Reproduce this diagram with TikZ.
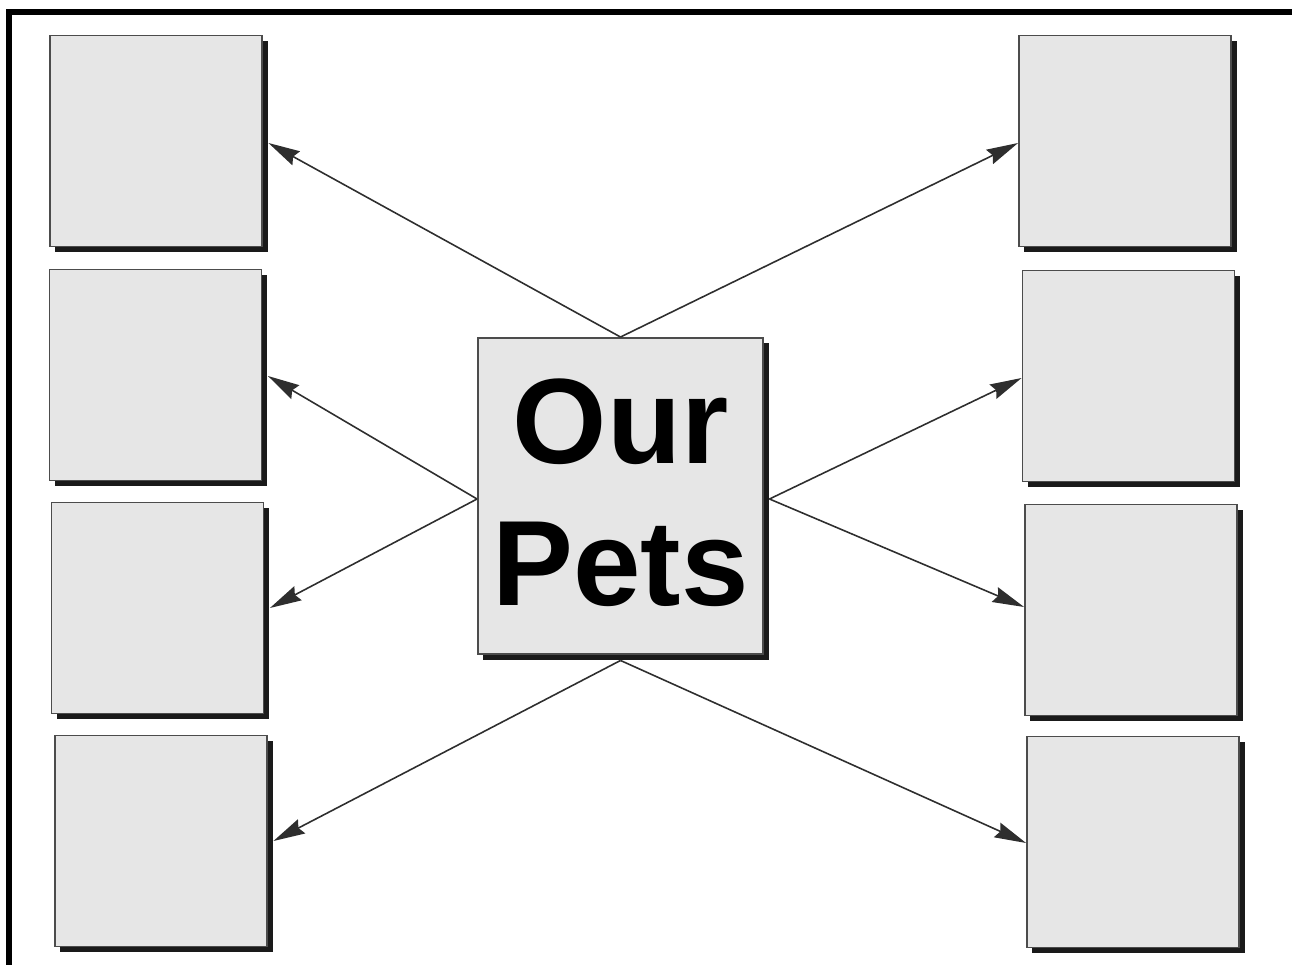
\documentclass[tikz,border=0pt]{standalone}
\usepackage{fontspec}
\newfontfamily\petsfont{Liberation Sans}
\usetikzlibrary{arrows.meta,shadows}
\definecolor{boxfill}{HTML}{E6E6E6}
\definecolor{shadowc}{HTML}{1A1A1A}
\definecolor{linec}{HTML}{2E2E2E}
\tikzset{
  petbox/.style={draw=black!70, line width=0.5pt, fill=boxfill, minimum width=2.12cm, minimum height=2.11cm, inner sep=0pt,
    drop shadow={shadow xshift=0.055cm, shadow yshift=-0.055cm, fill=shadowc, opacity=1}},
  centerbox/.style={petbox, minimum width=2.85cm, minimum height=3.16cm, align=center, text depth=0.08cm,
    font=\petsfont\bfseries\fontsize{34.5pt}{40.4pt}\selectfont},
  link/.style={draw=linec, line width=0.45pt, -{Stealth[length=9pt,width=4.5pt,inset=1pt]}},
  frame/.style={line width=0.06cm, draw=black}
}
\begin{document}
\begin{tikzpicture}[x=0.01cm,y=-0.01cm]
\useasboundingbox (0,0) rectangle (1292,965);
\draw[frame] (9,980) -- (9,12) -- (1310,12);
\node[petbox] (L1) at (156,141) {};
\node[petbox] (L2) at (155.5,375) {};
\node[petbox] (L3) at (157.5,608) {};
\node[petbox] (L4) at (161,841) {};
\node[petbox] (R1) at (1125,141) {};
\node[petbox] (R2) at (1128.5,376) {};
\node[petbox] (R3) at (1131,610) {};
\node[petbox] (R4) at (1133,842) {};
\node[centerbox] (C) at (620.5,496) {Our\\Pets};
\draw[link] (C.north) -- ([xshift=0.055cm,yshift=-0.02cm]L1.east);
\draw[link] (C.north) -- ([yshift=-0.02cm]R1.west);
\draw[link] ([yshift=-0.03cm]C.west) -- ([xshift=0.055cm,yshift=-0.01cm]L2.east);
\draw[link] ([yshift=-0.03cm]C.west) -- ([xshift=0.055cm]L3.east);
\draw[link] ([xshift=0.055cm,yshift=-0.03cm]C.east) -- ([yshift=-0.02cm]R2.west);
\draw[link] ([xshift=0.055cm,yshift=-0.03cm]C.east) -- ([yshift=0.03cm]R3.west);
\draw[link] ([yshift=-0.055cm]C.south) -- ([xshift=0.055cm]L4.east);
\draw[link] ([yshift=-0.055cm]C.south) -- ([yshift=-0.01cm]R4.west);
\end{tikzpicture}
\end{document}
